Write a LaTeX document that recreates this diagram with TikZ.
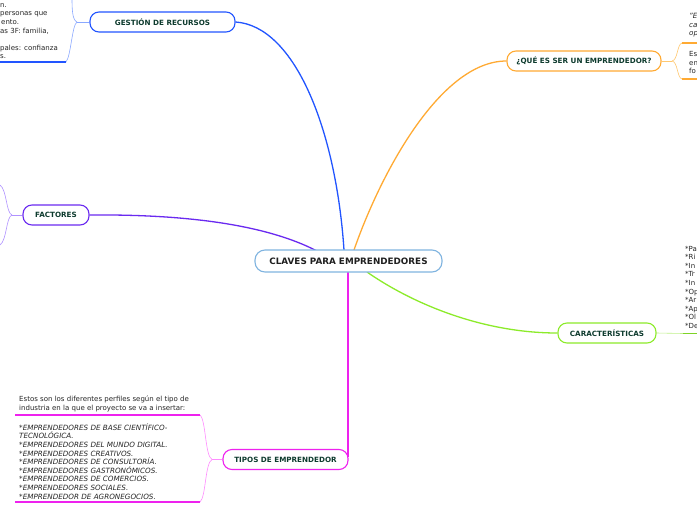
\documentclass[tikz,border=0pt]{standalone}
\usepackage{fontspec}
\setmainfont{DejaVu Sans}
\usetikzlibrary{backgrounds}
\definecolor{cblue}{HTML}{2255FF}
\definecolor{lblue}{HTML}{8AA8FF}
\definecolor{corange}{HTML}{FFAA33}
\definecolor{lorange}{HTML}{FFC870}
\definecolor{cpurple}{HTML}{6A2AF0}
\definecolor{lpurple}{HTML}{B092FF}
\definecolor{cgreen}{HTML}{8CEB2A}
\definecolor{lgreen}{HTML}{C0F08A}
\definecolor{cmag}{HTML}{EE22EE}
\definecolor{lmag}{HTML}{FF8CFF}
\definecolor{ccenter}{HTML}{80B4E0}
\definecolor{boxtext}{HTML}{0E3B2E}
\definecolor{bodytext}{HTML}{262626}
\begin{document}
\begin{tikzpicture}[x=1pt,y=-1pt,
  topic/.style={draw, line width=1.1pt, rounded corners=9pt, fill=white,
    minimum height=20pt, inner sep=0pt,
    font=\fontsize{7.2}{8}\selectfont\bfseries, text=boxtext},
  mainbox/.style={topic, draw=ccenter, minimum height=22pt, rounded corners=10pt,
    font=\fontsize{8.8}{10}\selectfont\bfseries, text=black!88},
  conn/.style={line width=1.3pt},
  brk/.style={line width=0.6pt},
  uline/.style={line width=1.6pt},
  body/.style={font=\fontsize{7}{8}\selectfont, text=bodytext, inner sep=0pt, anchor=base west},
  ibody/.style={body, font=\fontsize{7.2}{8}\selectfont\itshape}]
\useasboundingbox (0,0) rectangle (697,520);
\clip (0,0) rectangle (697,520);

% nodes
\node[mainbox, minimum width=187pt] (c) at (348.5,261) {CLAVES PARA EMPRENDEDORES};
\node[topic, draw=cblue, minimum width=145pt] (g) at (162.5,22) {GESTIÓN DE RECURSOS};
\node[topic, draw=corange, minimum width=154pt] (q) at (584,61) {¿QUÉ ES SER UN EMPRENDEDOR?};
\node[topic, draw=cpurple, minimum width=66pt] (f) at (56,215) {FACTORES};
\node[topic, draw=cgreen, minimum width=98pt] (k) at (607,333) {CARACTERÍSTICAS};
\node[topic, draw=cmag, minimum width=125pt] (t) at (285.5,459.5) {TIPOS DE EMPRENDEDOR};

\coordinate (cb) at (344,250);
\coordinate (co) at (354,250);
\coordinate (cp) at (316,250.5);
\coordinate (cm) at (348,272);
\coordinate (cg) at (367,272);

\begin{scope}[on background layer]
\fill[white] (0,0) rectangle (697,520);
% main connectors
\draw[conn, cblue] (g.east) .. controls (295,26) and (336,130) .. (cb);
\draw[conn, corange] (co) .. controls (380,175) and (440,61) .. (q.west);
\draw[conn, cpurple] (f.east) .. controls (200,214) and (272,228) .. (cp);
\draw[conn, cgreen] (cg) .. controls (410,302) and (480,333) .. (k.west);
\coordinate (tm) at (348,457);
\draw[conn, cmag] (cm) -- (tm);

% blue bracket (gestion)
\coordinate (gb) at (77,22);
\coordinate (gu) at (72,-4);
\coordinate (gl) at (66,62);
\coordinate (gl0) at (0,62);
\draw[brk, lblue] (g.west) -- (gb);
\draw[brk, lblue] (gb) .. controls (72,20) and (72,8) .. (gu);
\draw[brk, lblue] (gb) .. controls (72,25) and (71,56) .. (gl);
\draw[uline, cblue] (gl) -- (gl0);

% orange bracket
\coordinate (qb) at (672,61);
\coordinate (qu) at (682,43);
\coordinate (qu1) at (697,43);
\coordinate (ql) at (682,79);
\coordinate (ql1) at (697,79);
\draw[brk, lorange] (q.east) -- (qb);
\draw[brk, lorange] (qb) .. controls (678,60) and (677,44) .. (qu);
\draw[brk, lorange] (qb) .. controls (678,62) and (677,78) .. (ql);
\draw[uline, corange] (qu) -- (qu1);
\draw[uline, corange] (ql) -- (ql1);

% purple bracket
\coordinate (fb) at (12,215);
\coordinate (fu) at (0,185);
\coordinate (fl) at (0,245);
\draw[brk, lpurple] (f.west) -- (fb);
\draw[brk, lpurple] (fb) .. controls (6,213) and (7,190) .. (fu);
\draw[brk, lpurple] (fb) .. controls (6,217) and (7,240) .. (fl);

% green
\coordinate (kb) at (683,333.5);
\coordinate (kb1) at (697,333.5);
\draw[brk, lgreen] (k.east) -- (kb);
\draw[uline, cgreen!90!black] (kb) -- (kb1);

% magenta bracket
\coordinate (tb) at (212,459.5);
\coordinate (tu) at (200,415);
\coordinate (tu1) at (15,415);
\coordinate (tl) at (200,502);
\coordinate (tl1) at (15,502);
\draw[brk, lmag] (t.west) -- (tb);
\draw[brk, lmag] (tb) .. controls (205,456) and (206,420) .. (tu);
\draw[brk, lmag] (tb) .. controls (205,463) and (206,497) .. (tl);
\draw[uline, cmag] (tu) -- (tu1);
\draw[uline, cmag] (tl) -- (tl1);
\end{scope}

% top-left texts (cut)
\node[body] (gt1) at (0,7.2) {n.};
\node[body] (gt2) at (0,15.8) {personas que};
\node[body] (gt3) at (1,24.4) {ento.};
\node[body] (gt4) at (0,33) {as 3F: familia,};
\node[body] (gt5) at (0,50.2) {pales: confianza};
\node[body] (gt6) at (0,58.8) {s.};

% top-right texts (cut)
\node[ibody] (qt1) at (689,18.5) {"E};
\node[ibody] (qt2) at (689,27.1) {ca};
\node[ibody] (qt3) at (689,35.7) {op};
\node[body] (qt4) at (689,56.5) {Es};
\node[body] (qt5) at (689,65.1) {en};
\node[body] (qt6) at (689,73.7) {fo};

% characteristics list (cut)
\foreach \s [count=\i] in {*Pa,*Ri,*In,*Tr,*In,*Op,*Ar,*Ap,*Ol,*De}
  \node[body] (ch\i) at (685,{251.2+8.56*(\i-1)}) {\s};

% tipos texts
\node[body] (tp1) at (19,401.5) {Estos son los diferentes perfiles según el tipo de};
\node[body] (tp2) at (19,410.1) {industria en la que el proyecto se va a insertar:};
\foreach \s [count=\i] in {*EMPRENDEDORES DE BASE CIENTÍFICO-,TECNOLÓGICA.,*EMPRENDEDORES DEL MUNDO DIGITAL.,*EMPRENDEDORES CREATIVOS.,*EMPRENDEDORES DE CONSULTORÍA.,*EMPRENDEDORES GASTRONÓMICOS.,*EMPRENDEDORES DE COMERCIOS.,*EMPRENDEDORES SOCIALES.,*EMPRENDEDOR DE AGRONEGOCIOS.}
  \node[ibody] (ti\i) at (19,{430.2+8.6*(\i-1)}) {\s};
\end{tikzpicture}
\end{document}
